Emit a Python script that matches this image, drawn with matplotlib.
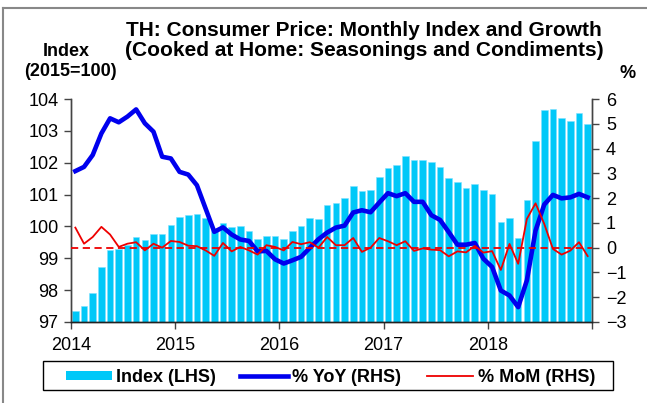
import matplotlib
matplotlib.use("Agg")
import matplotlib.pyplot as plt
from matplotlib.lines import Line2D
from matplotlib.patches import Rectangle
import matplotlib.transforms as mtransforms
import numpy as np

plt.rcParams['font.family'] = ['Liberation Sans', 'DejaVu Sans']

years = ['2014', '2015', '2016', '2017', '2018']

index_vals = [97.33, 97.49, 97.91, 98.73, 99.25, 99.29, 99.43, 99.67, 99.57, 99.75, 99.75, 100.04,
              100.29, 100.36, 100.39, 100.25, 99.88, 100.11, 99.99, 100.01, 99.87, 99.61, 99.70, 99.71,
              99.62, 99.85, 100.00, 100.26, 100.22, 100.67, 100.75, 100.88, 101.27, 101.12, 101.13, 101.55,
              101.82, 101.92, 102.21, 102.09, 102.08, 102.01, 101.87, 101.53, 101.39, 101.22, 101.33, 101.14,
              101.03, 100.13, 100.28, 99.64, 100.82, 102.67, 103.65, 103.69, 103.41, 103.32, 103.56, 103.23]

yoy_vals = [3.09, 3.26, 3.74, 4.61, 5.22, 5.06, 5.29, 5.58, 5.02, 4.68, 3.67, 3.60,
            3.06, 2.95, 2.52, 1.58, 0.64, 0.82, 0.53, 0.33, 0.27, -0.15, -0.13, -0.47,
            -0.64, -0.51, -0.37, -0.01, 0.34, 0.61, 0.81, 0.89, 1.42, 1.51, 1.43, 1.82,
            2.20, 2.08, 2.20, 1.85, 1.85, 1.31, 1.12, 0.63, 0.12, 0.12, 0.19, -0.45,
            -0.78, -1.73, -1.93, -2.40, -1.32, 0.69, 1.74, 2.13, 1.99, 2.03, 2.17, 2.03]

mom_vals = [0.81, 0.16, 0.43, 0.84, 0.53, 0.03, 0.16, 0.22, -0.11, 0.16, 0.00, 0.27,
            0.23, 0.08, 0.06, -0.11, -0.33, 0.19, -0.15, 0.03, -0.11, -0.28, 0.10, 0.03,
            -0.11, 0.23, 0.14, 0.22, 0.00, 0.43, 0.10, 0.10, 0.39, -0.17, 0.00, 0.39,
            0.26, 0.10, 0.26, -0.13, -0.03, -0.08, -0.10, -0.35, -0.15, -0.19, 0.07, -0.20,
            -0.14, -0.90, 0.15, -0.65, 1.16, 1.79, 0.96, -0.05, -0.28, -0.12, 0.22, -0.34]

legend_labels = ['Index (LHS)', '% YoY (RHS)', '% MoM (RHS)']

W, H = 647, 403
fig = plt.figure(figsize=(W / 100, H / 100), dpi=100)
ax = fig.add_axes([71 / W, 1 - 322 / H, (592 - 71) / W, (322 - 99) / H])
ax2 = ax.twinx()

bar_color = '#00C8F8'
blue = '#0000EE'
red = '#EE0000'

x = np.arange(len(index_vals)) + 0.5
ax.bar(x, np.array(index_vals) - 97, bottom=97, width=0.76, color=bar_color,
       edgecolor='#7FE0FF', linewidth=0.4, zorder=2)
ax.set_ylim(97, 104)
ax.set_xlim(0, 60)
ax.set_yticks(range(97, 105))

ax2.plot(x, yoy_vals, color=blue, lw=3.3, solid_joinstyle='round', zorder=3)
ax2.plot(x, mom_vals, color=red, lw=1.3, zorder=4)
ax2.axhline(0, color=red, lw=1.3, ls=(0, (4, 2.5)), zorder=4)
ax2.set_ylim(-3, 6)
ax2.set_yticks(range(-3, 7))

ax.set_xticks(range(0, 61, 12))
ax.set_xticklabels(years + [''])
offset = mtransforms.ScaledTranslation(4 / 100, 0, fig.dpi_scale_trans)
for lab in ax.get_xticklabels():
    lab.set_transform(lab.get_transform() + offset)

for a in (ax, ax2):
    a.spines['top'].set_visible(False)
    a.spines['left'].set_color('#444444')
    a.spines['right'].set_color('#444444')
    a.spines['bottom'].set_color('#222222')
    for s in a.spines.values():
        s.set_linewidth(1.0)
    a.patch.set_visible(False)

ax.tick_params(axis='y', direction='out', length=5, width=1, color='#444444',
               labelsize=13, pad=4)
ax.tick_params(axis='x', direction='out', length=5, width=1, color='#444444',
               labelsize=13, pad=6)
ax2.tick_params(axis='y', direction='out', length=5, width=1, color='#444444',
                labelsize=13, pad=5)

fig.text(364 / W, 1 - 31 / H, 'TH: Consumer Price: Monthly Index and Growth',
         ha='center', va='center', fontsize=15, fontweight='bold')
fig.text(364 / W, 1 - 51 / H, '(Cooked at Home: Seasonings and Condiments)',
         ha='center', va='center', fontsize=15, fontweight='bold')
fig.text(66 / W, 1 - 51 / H, 'Index', ha='center', va='center', fontsize=13, fontweight='bold')
fig.text(70 / W, 1 - 71 / H, '(2015=100)', ha='center', va='center', fontsize=13, fontweight='bold')
fig.text(628 / W, 1 - 74 / H, '%', ha='center', va='center', fontsize=13, fontweight='bold')

# legend drawn in figure pixel coordinates
def fx(px):
    return px / W

def fy(py):
    return 1 - py / H

fig.add_artist(Rectangle((fx(43), fy(390)), fx(613) - fx(43), fy(361) - fy(390),
                         transform=fig.transFigure, facecolor='white', edgecolor='black', lw=1.0))
ly = 375.5
fig.add_artist(Rectangle((fx(66), fy(380)), fx(112) - fx(66), fy(371) - fy(380),
                         transform=fig.transFigure, facecolor=bar_color, edgecolor='none'))
fig.add_artist(Line2D([fx(240), fx(288)], [fy(ly), fy(ly)], transform=fig.transFigure, color=blue, lw=3.3))
fig.add_artist(Line2D([fx(427), fx(473)], [fy(ly), fy(ly)], transform=fig.transFigure, color=red, lw=1.3))
for tx, lab in zip([116, 292, 478], legend_labels):
    fig.text(fx(tx), fy(ly), lab, ha='left', va='center_baseline', fontsize=13, fontweight='bold')

# outer frame (left and top visible)
fig.add_artist(Line2D([3 / W, 3 / W], [0, 1 - 8 / H], transform=fig.transFigure, color='#888888', lw=1.5))
fig.add_artist(Line2D([3 / W, 1], [1 - 8 / H, 1 - 8 / H], transform=fig.transFigure, color='#888888', lw=1.5))

fig.savefig('out.png', dpi=100)
